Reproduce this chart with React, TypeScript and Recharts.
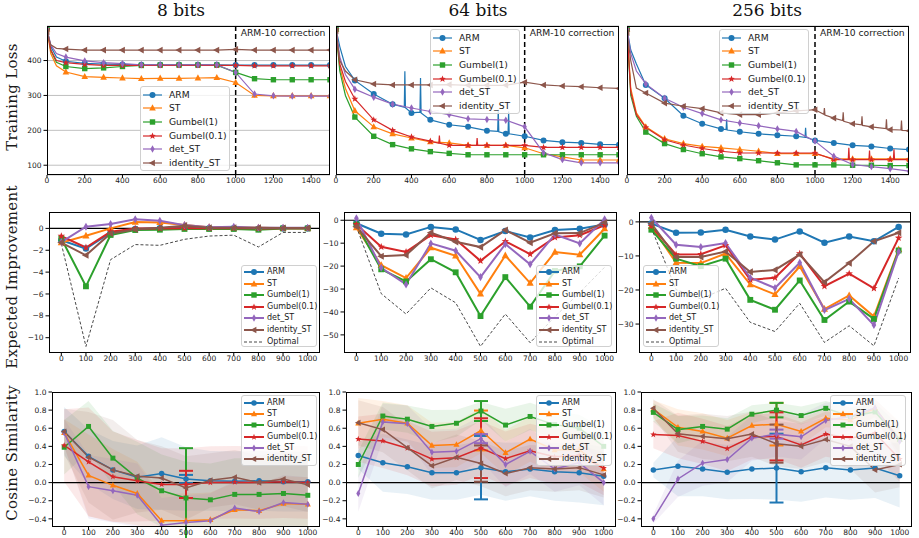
import React from "react";
import {
  ComposedChart,
  Line,
  Area,
  XAxis,
  YAxis,
  CartesianGrid,
  ReferenceLine,
  ErrorBar,
} from "recharts";

// ---- series styling (matplotlib tab10) ----
const KEYS = ["arm", "st", "g1", "g01", "det", "id"];
const LABELS = ["ARM", "ST", "Gumbel(1)", "Gumbel(0.1)", "det_ST", "identity_ST"];
const COLORS = ["#1f77b4", "#ff7f0e", "#2ca02c", "#d62728", "#9467bd", "#8c564b"];
const SHAPES = ["circle", "triUp", "square", "star", "thinDiamond", "triLeft"];

// ---- row 1: training loss ----
const LOSS_X = [0, 20, 50, 100, 200, 300, 400, 500, 600, 700, 800, 900, 1000, 1100, 1200, 1300, 1400, 1500];
const LOSS_TICKS = [0, 200, 400, 600, 800, 1000, 1200, 1400];
const LOSS_Y_TICKS = [100, 200, 300, 400];

const L8_ARM = [490, 440, 410, 398, 392, 390, 389, 388, 388, 388, 388, 388, 387, 387, 387, 387, 387, 387];
const L8_ST = [490, 420, 385, 367, 354, 352, 350, 348, 349, 349, 350, 351, 337, 300, 299, 299, 299, 299];
const L8_G1 = [495, 430, 395, 383, 377, 379, 383, 386, 387, 387, 387, 387, 366, 348, 345, 345, 345, 345];
const L8_G01 = [490, 430, 400, 394, 389, 386, 386, 386, 386, 386, 386, 386, 386, 385, 385, 385, 385, 385];
const L8_DET = [490, 445, 420, 410, 399, 394, 391, 388, 388, 388, 388, 388, 366, 304, 299, 298, 298, 298];
const L8_ID = [482, 445, 435, 433, 430, 430, 430, 430, 430, 430, 430, 430, 432, 430, 430, 430, 430, 430];

const L64_ARM = [490, 440, 383, 343, 304, 275, 250, 230, 216, 210, 199, 190, 183, 171, 166, 164, 160, 159];
const L64_ST = [490, 380, 320, 256, 210, 190, 178, 167, 164, 157, 157, 157, 150, 133, 124, 115, 115, 115];
const L64_G1 = [490, 370, 300, 238, 183, 159, 147, 139, 134, 130, 130, 130, 130, 130, 130, 130, 130, 130];
const L64_G01 = [490, 390, 340, 290, 230, 200, 181, 169, 157, 157, 157, 157, 157, 151, 151, 151, 151, 151];
const L64_DET = [490, 410, 360, 318, 295, 275, 264, 254, 245, 233, 231, 229, 210, 136, 116, 107, 107, 107];
const L64_ID = [485, 400, 370, 345, 333, 330, 330, 330, 331, 329, 329, 329, 338, 330, 327, 325, 322, 320];
const L64_ARM_SPIKES = [[362, 266], [365, 369], [368, 265], [445, 252], [448, 350], [451, 250], [857, 197], [860, 259], [863, 196], [912, 190], [915, 254], [918, 190]];
const L64_G01_SPIKES = [[545, 163], [548, 185], [551, 163], [745, 157], [748, 178], [751, 157]];

const L256_ARM = [490, 430, 390, 330, 292, 242, 219, 204, 196, 190, 186, 183, 171, 164, 157, 154, 148, 145];
const L256_ST = [490, 320, 250, 210, 176, 162, 154, 150, 145, 140, 133, 133, 133, 118, 118, 118, 118, 118];
const L256_G1 = [490, 300, 240, 195, 162, 145, 133, 124, 119, 113, 107, 101, 101, 101, 100, 100, 99, 99];
const L256_G01 = [490, 310, 245, 208, 173, 158, 148, 140, 135, 135, 135, 135, 135, 116, 116, 116, 116, 116];
const L256_DET = [490, 420, 370, 333, 292, 266, 248, 230, 221, 213, 204, 197, 169, 126, 102, 96, 90, 83];
const L256_ID = [480, 400, 321, 307, 278, 269, 262, 250, 245, 245, 250, 256, 259, 235, 219, 210, 202, 199];
const L256_ARM_SPIKES = [[527, 202], [530, 232], [533, 201], [947, 180], [950, 207], [953, 180]];
const L256_G01_SPIKES = [[1177, 116], [1180, 150], [1183, 116], [1287, 116], [1290, 142], [1293, 116], [1417, 116], [1420, 146], [1423, 116]];
const L256_ID_SPIKES = [[1047, 246], [1050, 264], [1053, 244], [1147, 228], [1150, 252], [1153, 226], [1247, 216], [1250, 240], [1253, 214], [1377, 205], [1380, 232], [1383, 204], [1457, 201], [1460, 228], [1463, 200]];

// ---- rows 2 and 3: steps ----
const STEPS = [0, 100, 200, 300, 400, 500, 600, 700, 800, 900, 1000];

// expected improvement
const EI8_ARM = [-1.08, -1.85, -0.4, -0.06, 0.02, 0.03, 0.02, 0.02, -0.05, 0.02, 0.02];
const EI8_ST = [-1.3, -0.68, 0.0, 0.58, 0.55, 0.3, 0.1, 0.05, 0.05, 0.02, 0.02];
const EI8_G1 = [-0.92, -5.3, -0.6, -0.15, -0.12, -0.05, -0.05, -0.05, -0.12, 0.0, 0.0];
const EI8_G01 = [-0.7, -1.75, -0.3, -0.02, 0.0, 0.02, 0.02, 0.02, 0.0, 0.02, 0.02];
const EI8_DET = [-1.25, 0.15, 0.4, 0.83, 0.7, 0.3, 0.1, 0.15, 0.06, 0.05, 0.05];
const EI8_ID = [-1.3, -2.46, -0.46, -0.1, 0.06, 0.25, 0.05, 0.05, 0.05, 0.03, 0.03];
const EI8_OPT = [-1.4, -10.8, -2.86, -1.48, -1.55, -1.0, -0.7, -0.62, -1.7, -0.37, -0.37];

const EI64_ARM = [-1.3, -5.9, -6.2, -2.9, -4.0, -8.6, -4.7, -7.5, -4.3, -3.7, -1.8];
const EI64_ST = [-3.2, -19.6, -25.2, -12.0, -15.5, -32.1, -15.4, -27.4, -13.9, -15.0, -3.7];
const EI64_G1 = [-1.8, -21.4, -26.7, -17.0, -22.7, -41.8, -24.8, -37.7, -22.1, -20.1, -6.7];
const EI64_G01 = [-1.8, -11.6, -13.8, -6.5, -8.4, -17.7, -9.2, -14.8, -7.5, -6.5, -2.2];
const EI64_DET = [0.9, -20.7, -28.0, -10.1, -13.3, -24.8, -10.4, -19.2, -6.2, -10.1, 0.4];
const EI64_ID = [-2.8, -15.7, -15.2, -5.4, -9.4, -11.7, -4.3, -9.8, -5.7, -5.6, -1.0];
const EI64_OPT = [-2.8, -32.0, -40.9, -29.5, -36.0, -55.0, -40.9, -53.4, -42.0, -31.5, -20.5];

const EI256_ARM = [-0.5, -3.2, -3.1, -2.3, -4.3, -5.2, -2.8, -6.1, -4.3, -5.7, -1.5];
const EI256_ST = [-1.3, -12.0, -12.1, -9.3, -18.4, -21.3, -13.1, -25.6, -21.6, -27.8, -8.1];
const EI256_G1 = [-2.3, -10.8, -13.0, -10.8, -22.9, -25.8, -17.2, -28.8, -23.4, -28.5, -8.4];
const EI256_G01 = [-1.3, -9.6, -9.5, -6.9, -17.0, -16.4, -9.3, -18.9, -15.2, -19.5, -4.7];
const EI256_DET = [1.2, -6.7, -7.4, -6.2, -16.4, -19.4, -12.0, -25.9, -22.6, -30.3, -8.8];
const EI256_ID = [-0.5, -10.3, -10.3, -8.7, -14.7, -14.1, -9.6, -17.7, -12.1, -5.7, -3.2];
const EI256_OPT = [-1.8, -19.9, -22.6, -19.5, -29.5, -32.2, -23.9, -35.4, -30.5, -36.4, -16.5];

// cosine similarity (mean, spread, error bar at step 500)
const COS8_ARM = [0.565, 0.29, 0.14, 0.06, 0.1, 0.04, 0.02, 0.015, 0.02, 0.01, 0.01];
const COS8_ST = [0.55, 0.08, -0.03, -0.12, -0.42, -0.42, -0.41, -0.3, -0.31, -0.23, -0.24];
const COS8_G1 = [0.39, 0.62, 0.27, 0.05, -0.09, -0.17, -0.19, -0.13, -0.13, -0.12, -0.14];
const COS8_G01 = [0.41, 0.23, 0.065, 0.02, -0.02, -0.02, 0.0, 0.005, 0.0, 0.01, 0.0];
const COS8_DET = [0.55, -0.045, -0.09, -0.14, -0.47, -0.44, -0.42, -0.28, -0.32, -0.22, -0.24];
const COS8_ID = [0.565, 0.28, 0.14, 0.07, 0.05, -0.06, 0.025, 0.06, 0.0, 0.04, -0.025];
const COS8_SD_ARM = [0.27, 0.3, 0.32, 0.35, 0.4, 0.35, 0.33, 0.33, 0.33, 0.33, 0.33];
const COS8_SD_ST = [0.15, 0.45, 0.4, 0.35, 0.3, 0.3, 0.3, 0.3, 0.3, 0.3, 0.3];
const COS8_SD_G1 = [0.3, 0.28, 0.3, 0.4, 0.4, 0.4, 0.4, 0.4, 0.4, 0.4, 0.4];
const COS8_SD_G01 = [0.4, 0.6, 0.5, 0.45, 0.4, 0.4, 0.4, 0.4, 0.4, 0.4, 0.4];
const COS8_SD_DET = [0.15, 0.35, 0.35, 0.35, 0.3, 0.3, 0.3, 0.3, 0.3, 0.3, 0.3];
const COS8_SD_ID = [0.25, 0.5, 0.55, 0.4, 0.35, 0.35, 0.3, 0.3, 0.3, 0.3, 0.3];
const COS8_ERR500 = [0.045, 0, 0.55, 0.15, 0, 0];

const COS64_ARM = [0.3, 0.22, 0.175, 0.11, 0.11, 0.165, 0.12, 0.15, 0.12, 0.11, 0.07];
const COS64_ST = [0.655, 0.7, 0.655, 0.41, 0.42, 0.575, 0.33, 0.48, 0.36, 0.365, 0.15];
const COS64_G1 = [0.2, 0.735, 0.7, 0.62, 0.655, 0.79, 0.635, 0.73, 0.64, 0.6, 0.4];
const COS64_G01 = [0.48, 0.46, 0.38, 0.26, 0.275, 0.38, 0.265, 0.35, 0.285, 0.3, 0.16];
const COS64_DET = [-0.12, 0.67, 0.65, 0.335, 0.345, 0.485, 0.2, 0.345, 0.15, 0.22, 0.0];
const COS64_ID = [0.66, 0.585, 0.385, 0.185, 0.28, 0.21, 0.1, 0.165, 0.15, 0.165, 0.085];
const COS64_SD_ARM = [0.15, 0.32, 0.3, 0.3, 0.3, 0.3, 0.32, 0.3, 0.32, 0.33, 0.32];
const COS64_SD_ST = [0.28, 0.2, 0.2, 0.25, 0.25, 0.25, 0.25, 0.25, 0.25, 0.25, 0.25];
const COS64_SD_G1 = [0.15, 0.15, 0.15, 0.18, 0.15, 0.1, 0.18, 0.15, 0.15, 0.15, 0.2];
const COS64_SD_G01 = [0.25, 0.3, 0.3, 0.3, 0.3, 0.3, 0.3, 0.3, 0.3, 0.3, 0.3];
const COS64_SD_DET = [0.2, 0.2, 0.2, 0.25, 0.25, 0.25, 0.25, 0.25, 0.25, 0.25, 0.25];
const COS64_SD_ID = [0.25, 0.25, 0.25, 0.25, 0.25, 0.25, 0.25, 0.25, 0.25, 0.25, 0.25];
const COS64_ERR500 = [0.35, 0.22, 0.11, 0.33, 0.05, 0.2];

const COS256_ARM = [0.14, 0.18, 0.15, 0.115, 0.15, 0.16, 0.12, 0.165, 0.14, 0.16, 0.075];
const COS256_ST = [0.81, 0.61, 0.565, 0.49, 0.63, 0.645, 0.565, 0.71, 0.69, 0.82, 0.475];
const COS256_G1 = [0.775, 0.585, 0.62, 0.59, 0.755, 0.8, 0.74, 0.82, 0.73, 0.78, 0.475];
const COS256_G01 = [0.53, 0.52, 0.455, 0.375, 0.505, 0.51, 0.415, 0.535, 0.49, 0.545, 0.26];
const COS256_DET = [-0.4, 0.04, 0.215, 0.255, 0.49, 0.535, 0.505, 0.685, 0.73, 0.825, 0.455];
const COS256_ID = [0.82, 0.54, 0.51, 0.485, 0.535, 0.43, 0.4, 0.475, 0.4, 0.14, 0.2];
const COS256_SD_ARM = [0.08, 0.33, 0.3, 0.3, 0.33, 0.35, 0.33, 0.33, 0.33, 0.33, 0.35];
const COS256_SD_ST = [0.1, 0.2, 0.2, 0.2, 0.15, 0.15, 0.15, 0.1, 0.1, 0.1, 0.2];
const COS256_SD_G1 = [0.1, 0.15, 0.12, 0.12, 0.1, 0.08, 0.1, 0.08, 0.1, 0.1, 0.15];
const COS256_SD_G01 = [0.15, 0.25, 0.25, 0.25, 0.25, 0.25, 0.25, 0.25, 0.25, 0.25, 0.25];
const COS256_SD_DET = [0.05, 0.2, 0.25, 0.25, 0.25, 0.25, 0.25, 0.2, 0.15, 0.1, 0.2];
const COS256_SD_ID = [0.1, 0.2, 0.25, 0.25, 0.25, 0.25, 0.25, 0.25, 0.25, 0.25, 0.25];
const COS256_ERR500 = [0.38, 0.235, 0.08, 0.265, 0.05, 0.21];

// ---- helpers ----
const YW = 34;
const XH = 14;
const M = 4;
const TICK_FONT = { fontSize: 7.5, fill: "#222", fontFamily: "DejaVu Sans" };
const minus = (s: string) => s.replace("-", "\u2212");

function lossSeries(vals: number[], spikes: number[][] = []) {
  const pts = LOSS_X.map((x, i) => ({ x, y: vals[i] }));
  spikes.forEach(([x, y]) => pts.push({ x, y }));
  return pts.sort((a, b) => a.x - b.x);
}

function buildTable(series: number[][], opt?: number[], sd?: number[][], err?: number[]) {
  return STEPS.map((x, i) => {
    const row: Record<string, any> = { x };
    series.forEach((vals, s) => {
      const k = KEYS[s];
      row[k] = vals[i];
      if (sd) row[k + "Band"] = [vals[i] - sd[s][i], vals[i] + sd[s][i]];
      if (err && x === 500 && err[s] > 0) row[k + "Err"] = err[s];
    });
    if (opt) row.opt = opt[i];
    return row;
  });
}

function Marker({ shape, x, y, s, color }: { shape: string; x: number; y: number; s: number; color: string }) {
  if (shape === "circle") return <circle cx={x} cy={y} r={s / 2} fill={color} />;
  if (shape === "square") return <rect x={x - s * 0.45} y={y - s * 0.45} width={s * 0.9} height={s * 0.9} fill={color} />;
  let pts: number[][] = [];
  if (shape === "triUp") pts = [[0, -0.62], [0.55, 0.4], [-0.55, 0.4]];
  if (shape === "triLeft") pts = [[-0.62, 0], [0.4, -0.55], [0.4, 0.55]];
  if (shape === "thinDiamond") pts = [[0, -0.62], [0.36, 0], [0, 0.62], [-0.36, 0]];
  if (shape === "star") {
    for (let k = 0; k < 10; k++) {
      const r = k % 2 === 0 ? 0.6 : 0.25;
      const a = (Math.PI / 5) * k - Math.PI / 2;
      pts.push([r * Math.cos(a), r * Math.sin(a)]);
    }
  }
  return <polygon points={pts.map(([a, b]) => `${x + a * s},${y + b * s}`).join(" ")} fill={color} />;
}

function dotFor(s: number, size: number, hundredsOnly = false) {
  return (p: any) => {
    const { cx, cy, payload, index } = p;
    if (cx == null || cy == null || (hundredsOnly && payload.x % 100 !== 0)) return <g key={index} />;
    return (
      <g key={index}>
        <Marker shape={SHAPES[s]} x={cx} y={cy} s={size} color={COLORS[s]} />
      </g>
    );
  };
}

type Box = { x0: number; y0: number; x1: number; y1: number };

function Frame({ box }: { box: Box }) {
  return (
    <div
      style={{
        position: "absolute",
        left: box.x0,
        top: box.y0,
        width: box.x1 - box.x0,
        height: box.y1 - box.y0,
        border: "1px solid #000",
        boxSizing: "border-box",
        pointerEvents: "none",
      }}
    />
  );
}

function ChartAt({
  box, data, xDomain, xTicks, yDomain, yTicks, yLabels = true, fmt, grid = false, children,
}: {
  box: Box; data?: any[]; xDomain: number[]; xTicks: number[]; yDomain: number[]; yTicks: number[];
  yLabels?: boolean; fmt: (v: number) => string; grid?: boolean; children: React.ReactNode;
}) {
  const W = box.x1 - box.x0 + YW + M;
  const H = box.y1 - box.y0 + M + XH;
  return (
    <div style={{ position: "absolute", left: box.x0 - YW, top: box.y0 - M }}>
      <ComposedChart width={W} height={H} data={data} margin={{ top: M, right: M, bottom: 0, left: 0 }}>
        {grid && <CartesianGrid vertical={false} stroke="#b0b0b0" strokeWidth={0.8} />}
        <XAxis
          dataKey="x"
          type="number"
          domain={xDomain}
          ticks={xTicks}
          interval={0}
          allowDataOverflow
          axisLine={false}
          tickLine={{ stroke: "#000" }}
          tickSize={3}
          tickMargin={0}
          height={XH}
          tick={TICK_FONT}
        />
        <YAxis
          type="number"
          domain={yDomain}
          ticks={yTicks}
          interval={0}
          allowDataOverflow
          axisLine={false}
          tickLine={{ stroke: "#000" }}
          tickSize={3.5}
          tickMargin={2}
          width={YW}
          tick={yLabels ? TICK_FONT : false}
          tickFormatter={fmt}
        />
        {children}
      </ComposedChart>
    </div>
  );
}

function LegendBox({
  left, top, width, height, first, step, font, lw, ms, iconLeft, iconW, gap, optimal = false,
}: {
  left: number; top: number; width: number; height: number; first: number; step: number; font: number;
  lw: number; ms: number; iconLeft: number; iconW: number; gap: number; optimal?: boolean;
}) {
  const rows = LABELS.map((label, s) => ({ label, s }));
  const rowStyle = (i: number): React.CSSProperties => ({
    position: "absolute",
    left: iconLeft,
    top: first + i * step - 6,
    height: 12,
    display: "flex",
    alignItems: "center",
    whiteSpace: "nowrap",
  });
  const textStyle: React.CSSProperties = {
    marginLeft: gap,
    fontSize: font,
    fontFamily: "DejaVu Sans",
    color: "#1a1a1a",
    lineHeight: "12px",
  };
  return (
    <div
      style={{
        position: "absolute",
        left,
        top,
        width,
        height,
        background: "rgba(255,255,255,0.8)",
        border: "1px solid #d0d0d0",
        borderRadius: 3,
        boxSizing: "border-box",
      }}
    >
      {rows.map(({ label, s }, i) => (
        <div key={label} style={rowStyle(i)}>
          <svg width={iconW} height={12}>
            <line x1={0} x2={iconW} y1={6} y2={6} stroke={COLORS[s]} strokeWidth={lw} />
            <Marker shape={SHAPES[s]} x={iconW / 2} y={6} s={ms} color={COLORS[s]} />
          </svg>
          <span style={textStyle}>{label}</span>
        </div>
      ))}
      {optimal && (
        <div style={rowStyle(6)}>
          <svg width={iconW} height={12}>
            <line x1={0} x2={iconW} y1={6} y2={6} stroke="#333" strokeWidth={0.9} strokeDasharray="3 2" />
          </svg>
          <span style={textStyle}>Optimal</span>
        </div>
      )}
    </div>
  );
}

// ---- panels ----
const lossFmt = (v: number) => String(v);
const eiFmt = (v: number) => minus(String(v));
const cosFmt = (v: number) => minus(v.toFixed(1));

function LossPanel({ box, series, labels }: { box: Box; series: { x: number; y: number }[][]; labels: boolean }) {
  return (
    <>
      <ChartAt box={box} xDomain={[0, 1500]} xTicks={LOSS_TICKS} yDomain={[72, 499]} yTicks={LOSS_Y_TICKS} yLabels={labels} fmt={lossFmt} grid>
        {series.map((d, s) => (
          <Line
            key={KEYS[s]}
            data={d}
            dataKey="y"
            type="linear"
            stroke={COLORS[s]}
            strokeWidth={1.2}
            dot={dotFor(s, 6, true)}
            activeDot={false}
            isAnimationActive={false}
          />
        ))}
        <ReferenceLine x={1000} stroke="#000" strokeWidth={1.5} strokeDasharray="5 3" />
      </ChartAt>
      <Frame box={box} />
      <div
        style={{
          position: "absolute",
          left: box.x0 + (box.x1 - box.x0) * (1000 / 1500) + 5,
          top: box.y0 + 1,
          fontSize: 9.2,
          fontFamily: "DejaVu Sans",
          color: "#1a1a1a",
          whiteSpace: "nowrap",
        }}
      >
        ARM-10 correction
      </div>
    </>
  );
}

function EIPanel({ box, data, yDomain, yTicks }: { box: Box; data: any[]; yDomain: number[]; yTicks: number[] }) {
  return (
    <>
      <ChartAt box={box} data={data} xDomain={[-50, 1050]} xTicks={STEPS} yDomain={yDomain} yTicks={yTicks} fmt={eiFmt}>
        <ReferenceLine y={0} stroke="#000" strokeWidth={1.2} />
        {KEYS.map((k, s) => (
          <Line
            key={k}
            dataKey={k}
            type="linear"
            stroke={COLORS[s]}
            strokeWidth={2}
            dot={dotFor(s, 6.5)}
            activeDot={false}
            isAnimationActive={false}
          />
        ))}
        <Line dataKey="opt" type="linear" stroke="#333" strokeWidth={0.9} strokeDasharray="3 2" dot={false} activeDot={false} isAnimationActive={false} />
      </ChartAt>
      <Frame box={box} />
    </>
  );
}

function CosPanel({ box, data, err }: { box: Box; data: any[]; err: number[] }) {
  return (
    <>
      <ChartAt box={box} data={data} xDomain={[-50, 1050]} xTicks={STEPS} yDomain={[-0.49, 1.0]} yTicks={[-0.4, -0.2, 0, 0.2, 0.4, 0.6, 0.8, 1.0]} fmt={cosFmt}>
        {KEYS.map((k, s) => (
          <Area
            key={k + "Band"}
            dataKey={k + "Band"}
            type="linear"
            fill={COLORS[s]}
            fillOpacity={0.1}
            stroke="none"
            activeDot={false}
            isAnimationActive={false}
          />
        ))}
        <ReferenceLine y={0} stroke="#000" strokeWidth={1.2} />
        {KEYS.map((k, s) => (
          <Line
            key={k}
            dataKey={k}
            type="linear"
            stroke={COLORS[s]}
            strokeWidth={1.5}
            dot={dotFor(s, 5.5)}
            activeDot={false}
            isAnimationActive={false}
          >
            {err[s] > 0 && <ErrorBar dataKey={k + "Err"} width={7} strokeWidth={2} stroke={COLORS[s]} direction="y" />}
          </Line>
        ))}
      </ChartAt>
      <Frame box={box} />
    </>
  );
}

const rowLabel = (text: string, cy: number) => (
  <div
    style={{
      position: "absolute",
      left: 12,
      top: cy,
      transform: "translate(-50%, -50%) rotate(-90deg)",
      fontFamily: "DejaVu Serif",
      fontSize: 15,
      color: "#1a1a1a",
      whiteSpace: "nowrap",
      letterSpacing: 0.3,
    }}
  >
    {text}
  </div>
);

const title = (text: string, cx: number) => (
  <div
    style={{
      position: "absolute",
      left: cx,
      top: 10,
      transform: "translate(-50%, -50%)",
      fontFamily: "DejaVu Serif",
      fontSize: 17,
      color: "#111",
      whiteSpace: "nowrap",
    }}
  >
    {text}
  </div>
);

export default function App() {
  const loss8 = [L8_ARM, L8_ST, L8_G1, L8_G01, L8_DET, L8_ID].map((v) => lossSeries(v));
  const loss64 = [
    lossSeries(L64_ARM, L64_ARM_SPIKES),
    lossSeries(L64_ST),
    lossSeries(L64_G1),
    lossSeries(L64_G01, L64_G01_SPIKES),
    lossSeries(L64_DET),
    lossSeries(L64_ID),
  ];
  const loss256 = [
    lossSeries(L256_ARM, L256_ARM_SPIKES),
    lossSeries(L256_ST),
    lossSeries(L256_G1),
    lossSeries(L256_G01, L256_G01_SPIKES),
    lossSeries(L256_DET),
    lossSeries(L256_ID, L256_ID_SPIKES),
  ];

  const ei8 = buildTable([EI8_ARM, EI8_ST, EI8_G1, EI8_G01, EI8_DET, EI8_ID], EI8_OPT);
  const ei64 = buildTable([EI64_ARM, EI64_ST, EI64_G1, EI64_G01, EI64_DET, EI64_ID], EI64_OPT);
  const ei256 = buildTable([EI256_ARM, EI256_ST, EI256_G1, EI256_G01, EI256_DET, EI256_ID], EI256_OPT);

  const cos8 = buildTable(
    [COS8_ARM, COS8_ST, COS8_G1, COS8_G01, COS8_DET, COS8_ID],
    undefined,
    [COS8_SD_ARM, COS8_SD_ST, COS8_SD_G1, COS8_SD_G01, COS8_SD_DET, COS8_SD_ID],
    COS8_ERR500
  );
  const cos64 = buildTable(
    [COS64_ARM, COS64_ST, COS64_G1, COS64_G01, COS64_DET, COS64_ID],
    undefined,
    [COS64_SD_ARM, COS64_SD_ST, COS64_SD_G1, COS64_SD_G01, COS64_SD_DET, COS64_SD_ID],
    COS64_ERR500
  );
  const cos256 = buildTable(
    [COS256_ARM, COS256_ST, COS256_G1, COS256_G01, COS256_DET, COS256_ID],
    undefined,
    [COS256_SD_ARM, COS256_SD_ST, COS256_SD_G1, COS256_SD_G01, COS256_SD_DET, COS256_SD_ID],
    COS256_ERR500
  );

  const r1 = { top: 26, bottom: 175 };
  const r2 = { top: 212, bottom: 353 };
  const r3 = { top: 392, bottom: 527 };

  const legend1 = { width: 90, height: 85, first: 7.7, step: 13.6, font: 9.2, lw: 1.2, ms: 6, iconLeft: 2, iconW: 19, gap: 7 };
  const legend2 = { width: 76, height: 82, first: 6, step: 11.6, font: 8, lw: 2, ms: 6, iconLeft: 2, iconW: 20, gap: 3 };
  const legend3 = { width: 76, height: 71, first: 7, step: 11.2, font: 8, lw: 2, ms: 5.5, iconLeft: 2, iconW: 20, gap: 3 };

  return (
    <div style={{ position: "absolute", left: 0, top: 0, width: 919, height: 538, background: "#fff", overflow: "hidden" }}>
      {title("8 bits", 181)}
      {title("64 bits", 478)}
      {title("256 bits", 767)}

      {rowLabel("Training Loss", 97)}
      {rowLabel("Expected Improvement", 277)}
      {rowLabel("Cosine Similarity", 453)}

      <LossPanel box={{ x0: 47, x1: 330, y0: r1.top, y1: r1.bottom }} series={loss8} labels />
      <LossPanel box={{ x0: 336, x1: 619, y0: r1.top, y1: r1.bottom }} series={loss64} labels={false} />
      <LossPanel box={{ x0: 627, x1: 909, y0: r1.top, y1: r1.bottom }} series={loss256} labels={false} />

      <EIPanel box={{ x0: 49, x1: 320, y0: r2.top, y1: r2.bottom }} data={ei8} yDomain={[-11.4, 1.5]} yTicks={[-10, -8, -6, -4, -2, 0]} />
      <EIPanel box={{ x0: 344, x1: 617, y0: r2.top, y1: r2.bottom }} data={ei64} yDomain={[-57.9, 3.6]} yTicks={[-50, -40, -30, -20, -10, 0]} />
      <EIPanel box={{ x0: 639, x1: 911, y0: r2.top, y1: r2.bottom }} data={ei256} yDomain={[-38.5, 2.9]} yTicks={[-30, -20, -10, 0]} />

      <CosPanel box={{ x0: 52, x1: 320, y0: r3.top, y1: r3.bottom }} data={cos8} err={COS8_ERR500} />
      <CosPanel box={{ x0: 346, x1: 616, y0: r3.top, y1: r3.bottom }} data={cos64} err={COS64_ERR500} />
      <CosPanel box={{ x0: 641, x1: 912, y0: r3.top, y1: r3.bottom }} data={cos256} err={COS256_ERR500} />

      <LegendBox left={140} top={86} {...legend1} />
      <LegendBox left={430} top={29} {...legend1} />
      <LegendBox left={719} top={29} {...legend1} />

      <LegendBox left={241} top={265} {...legend2} optimal />
      <LegendBox left={536} top={265} {...legend2} optimal />
      <LegendBox left={643} top={265} {...legend2} optimal />

      <LegendBox left={241} top={395} {...legend3} />
      <LegendBox left={536} top={395} {...legend3} />
      <LegendBox left={830} top={395} {...legend3} />
    </div>
  );
}
